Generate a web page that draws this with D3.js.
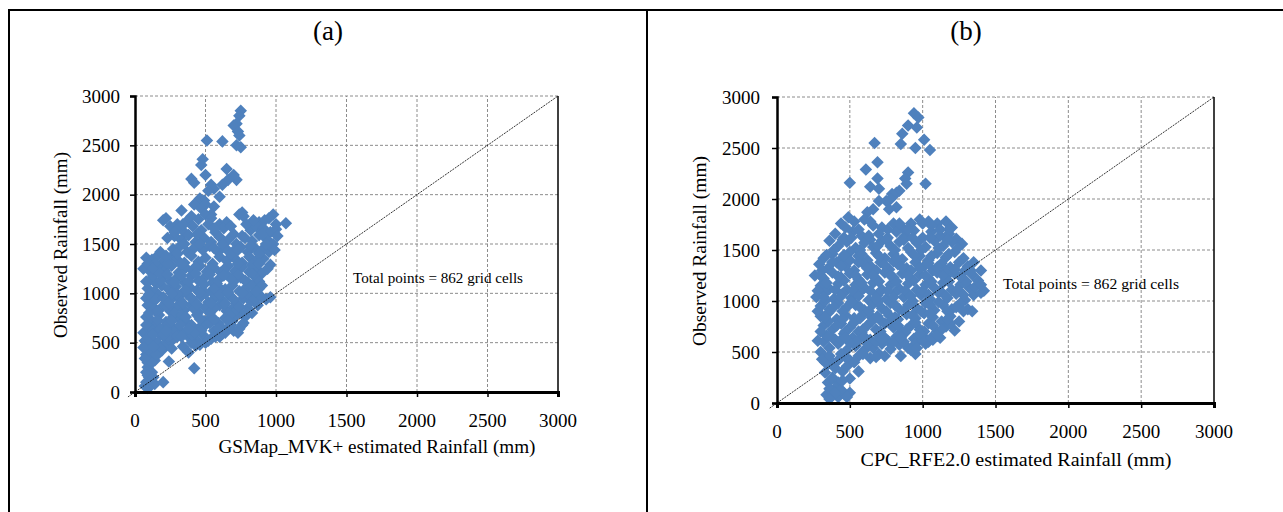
<!DOCTYPE html>
<html><head><meta charset="utf-8">
<script src="https://cdn.jsdelivr.net/npm/d3@7"></script>
<style>body{margin:0;background:#fff}svg{display:block}text{font-family:"Liberation Serif","Times New Roman",serif;fill:#000}</style>
</head><body>
<svg id="c" width="1283" height="512"></svg>
<script>
const ticks = [0, 500, 1000, 1500, 2000, 2500, 3000];
const panelLabels = ["(a)", "(b)"];
const xTitles = ["GSMap_MVK+ estimated Rainfall (mm)", "CPC_RFE2.0 estimated Rainfall (mm)"];
const yTitle = "Observed Rainfall (mm)";
const note = "Total points = 862 grid cells";

// panel (a): [estimated, observed]
const pointsA = [
[750,2850],[740,2800],[720,2720],[700,2700],[730,2640],[740,2600],[720,2500],[750,2480],[510,2550],[620,2540],
[480,2360],[470,2300],[500,2200],[650,2260],[700,2200],[720,2150],[660,2150],[620,2100],[400,2160],[420,2120],
[540,2100],[560,2060],[520,2040],[600,1980],[460,1960],[490,1940],[440,1920],[420,1900],[560,1880],[540,1800],
[330,1840],[220,1760],[200,1740],[500,1900],[470,1860],
[300,1700],[360,1720],[400,1780],[450,1750],[500,1800],[540,1760],[600,1700],[650,1720],[740,1800],[760,1820],
[770,1780],[880,1720],[920,1740],[980,1800],[1000,1700],[1070,1710],[950,1760],
[250,1680],[300,1650],[350,1620],[410,1680],[470,1640],[520,1700],[570,1620],[630,1660],[700,1600],[760,1580],
[820,1640],[860,1680],[910,1660],[960,1620],[1000,1650],[1010,1580],
[230,1560],[280,1580],[330,1540],[380,1590],[430,1520],[490,1560],[540,1520],[600,1570],[660,1540],[720,1500],
[780,1560],[830,1530],[880,1590],[940,1540],[980,1500],
[270,1450],[320,1480],[370,1420],[420,1460],[480,1440],[530,1480],[590,1420],[640,1460],[700,1430],[750,1470],
[800,1420],[850,1460],[900,1440],[950,1420],[960,1480],
[80,1360],[120,1340],[160,1380],[200,1320],[250,1360],[300,1340],[350,1310],[400,1380],[450,1320],[500,1360],
[550,1300],[600,1370],[650,1330],[710,1350],[760,1310],[810,1370],[860,1330],[910,1350],[960,1290],
[60,1250],[110,1220],[160,1270],[210,1230],[260,1280],[310,1210],[360,1260],[410,1230],[460,1280],[510,1220],
[560,1260],[610,1210],[660,1280],[710,1230],[760,1270],[810,1220],[860,1250],[900,1200],
[110,1140],[150,1100],[200,1170],[250,1120],[300,1160],[350,1110],[400,1180],[450,1130],[500,1170],[550,1110],
[600,1150],[650,1190],[700,1120],[750,1160],[800,1110],[850,1170],[880,1120],
[90,1050],[140,1020],[190,1080],[240,1040],[290,1070],[340,1010],[390,1060],[440,1030],[490,1090],[540,1020],
[590,1070],[640,1040],[690,1080],[740,1020],[790,1060],[840,1000],[880,1050],
[80,950],[120,920],[170,980],[220,910],[270,960],[320,930],[370,990],[420,920],[470,970],[520,910],
[570,960],[620,930],[670,980],[720,900],[770,950],[820,920],[870,880],[960,960],[930,940],
[90,880],[140,840],[190,860],[250,820],[300,870],[350,830],[400,880],[450,810],[500,860],[550,830],
[600,880],[650,820],[700,860],[750,800],[800,850],[830,800],
[80,760],[120,720],[170,780],[220,710],[270,760],[320,730],[370,700],[440,780],[490,720],[540,760],
[590,700],[640,750],[690,720],[720,780],[770,700],[780,760],
[60,600],[100,640],[150,680],[200,620],[260,660],[300,640],[350,600],[450,640],[500,680],[560,620],
[610,660],[660,640],[700,620],[730,600],[760,680],
[90,560],[130,520],[180,580],[220,540],[260,520],[380,560],[440,520],[480,580],[540,540],[570,560],[620,590],
[80,480],[120,440],[150,460],[190,420],[230,480],[260,440],[340,460],[380,400],[430,470],[460,480],[500,500],
[80,380],[110,350],[140,320],[90,300],[240,310],[130,400],[420,240],
[90,250],[80,200],[100,150],[80,100],[110,60],[140,80],[100,120],[120,200],[90,170],[200,100],
[280,1620],[340,1700],[440,1600],[560,1660],[680,1680],[790,1700],[900,1600],[840,1740],
[300,1400],[350,1500],[460,1500],[560,1460],[620,1500],[680,1400],[730,1440],[820,1480],[880,1400],[930,1500],[990,1440],
[90,1300],[140,1300],[230,1300],[330,1290],[430,1270],[530,1250],[630,1240],[730,1300],[830,1290],[880,1300],[940,1250],
[80,1120],[130,1180],[180,1130],[280,1110],[380,1120],[480,1100],[580,1100],[680,1150],[780,1130],[830,1080],[900,1080],
[100,990],[150,940],[200,960],[300,990],[400,950],[500,1000],[600,990],[700,940],[800,990],[850,940],[900,960],
[100,800],[160,820],[230,860],[280,800],[330,780],[420,840],[530,800],[630,880],[680,790],[720,830],[800,800],
[80,680],[130,620],[180,640],[230,690],[280,600],[320,680],[400,680],[470,620],[530,700],[590,640],[640,600],[680,680],[740,640],
[70,520],[110,500],[160,500],[200,460],[240,560],[300,560],[400,500],[520,520],[600,560],
[70,340],[100,420],[120,300],[160,380],[180,440],[60,450],
[70,60],[90,40],[130,150],
[180,1420],[220,1380],[130,1250],[175,1200],[230,1190],[330,1180],[430,1200],[530,1190],[630,1180],[730,1190],[830,1200],
[260,1000],[360,1030],[460,1010],[560,1050],[660,1010],[760,1000],[860,1020],[240,900],[340,900],[440,890],[540,900],
[640,900],[740,870],[160,730],[260,720],[360,760],[460,740],[560,740],[660,720],[130,580],[200,580],[330,560],[410,580],
[150,380],[130,460],[220,620],[420,600],[380,640]
];

// panel (b): [estimated, observed]
const pointsB = [
[940,2840],[970,2800],[900,2720],[960,2700],[860,2640],[1010,2580],[850,2540],[950,2500],[1050,2480],[670,2550],
[690,2360],[900,2260],[880,2200],[890,2150],[610,2290],[500,2160],[640,2120],[700,2100],[690,2200],[1020,2150],
[840,2080],[820,2060],[790,2050],[780,2000],[750,1980],[700,1980],[660,1900],[620,1870],[820,1920],[770,1900],
[440,1760],[490,1820],[530,1780],[600,1800],[660,1740],[720,1720],[800,1760],[860,1720],[920,1760],[980,1800],
[1040,1780],[1100,1760],[1160,1780],[1200,1720],
[400,1660],[460,1620],[520,1680],[580,1640],[640,1600],[700,1660],[760,1620],[820,1680],[880,1640],[940,1690],
[1000,1620],[1060,1680],[1120,1640],[1180,1660],[1230,1610],
[360,1590],[420,1540],[480,1580],[540,1520],[600,1570],[660,1530],[720,1590],[780,1540],[840,1580],[900,1520],
[960,1570],[1020,1530],[1080,1590],[1140,1540],[1200,1580],[1270,1560],
[320,1420],[380,1460],[440,1410],[500,1480],[560,1440],[620,1400],[680,1470],[740,1420],[800,1460],[860,1410],
[920,1480],[980,1440],[1040,1400],[1100,1470],[1160,1430],[1220,1480],[1280,1420],
[290,1360],[350,1320],[410,1380],[470,1340],[530,1300],[590,1370],[650,1330],[710,1380],[770,1310],[830,1360],
[890,1320],[950,1380],[1010,1340],[1070,1300],[1130,1370],[1190,1330],[1250,1380],[1310,1340],[1350,1380],
[260,1250],[320,1220],[380,1280],[440,1230],[500,1270],[560,1210],[620,1260],[680,1220],[740,1280],[800,1230],
[860,1270],[920,1210],[980,1260],[1040,1220],[1100,1280],[1160,1240],[1220,1270],[1280,1210],[1340,1260],[1400,1300],[1380,1200],
[300,1150],[360,1120],[420,1170],[480,1110],[540,1160],[600,1130],[660,1180],[720,1110],[780,1160],[840,1120],
[900,1170],[960,1110],[1020,1160],[1080,1130],[1140,1180],[1200,1110],[1260,1160],[1320,1130],[1420,1100],
[270,1040],[330,1080],[390,1020],[450,1070],[510,1030],[570,1090],[630,1010],[690,1060],[750,1020],[810,1080],
[870,1040],[930,1000],[990,1060],[1050,1020],[1110,1080],[1170,1030],[1230,1070],[1290,1010],[1350,1060],[1400,1080],
[300,950],[360,920],[420,980],[480,940],[540,960],[600,910],[660,970],[720,930],[780,980],[840,920],
[900,960],[960,930],[1020,980],[1080,910],[1140,960],[1200,920],[1260,980],[1310,920],[1340,900],
[300,850],[350,880],[410,820],[470,860],[530,830],[590,870],[650,840],[710,810],[770,860],[830,820],
[890,870],[950,830],[1010,880],[1070,840],[1130,800],[1190,850],[1250,800],
[320,760],[380,720],[440,780],[500,740],[560,700],[620,760],[680,720],[740,780],[800,740],[860,700],
[920,760],[980,720],[1040,780],[1100,700],[1160,750],[1220,710],
[280,610],[340,660],[400,620],[460,680],[520,640],[580,690],[640,620],[700,660],[760,610],[820,650],
[880,690],[940,630],[1000,660],[1040,600],[1070,620],[1120,640],
[300,500],[360,540],[420,580],[480,520],[540,560],[600,520],[660,540],[720,580],[780,530],[840,570],
[900,540],[950,580],[1020,580],
[330,450],[380,400],[440,480],[500,420],[560,460],[640,440],[700,480],[740,460],[850,460],[950,480],[920,520],
[350,380],[400,340],[450,310],[330,400],[560,310],[480,360],
[350,200],[380,250],[420,200],[500,240],[340,80],[380,100],[420,60],[460,90],[500,100],[400,150],[440,130],
[470,1720],[560,1700],[640,1780],[760,1700],[840,1760],[900,1700],[1000,1760],[1060,1740],[1120,1700],[1180,1700],
[390,1500],[450,1600],[510,1620],[570,1500],[630,1640],[690,1540],[750,1600],[810,1500],[870,1600],[930,1620],[990,1500],[1050,1620],[1110,1520],[1170,1600],[1240,1520],
[310,1300],[380,1380],[440,1340],[500,1400],[560,1380],[620,1320],[680,1300],[740,1350],[800,1390],[860,1330],[920,1300],[980,1320],[1040,1370],[1100,1330],[1160,1300],[1220,1310],[1290,1300],[1330,1300],
[280,1100],[340,1180],[400,1110],[460,1200],[520,1100],[580,1180],[640,1100],[700,1190],[760,1100],[820,1190],[880,1100],[940,1200],[1000,1100],[1060,1190],[1120,1100],[1180,1190],[1240,1110],[1300,1190],[1360,1140],[1400,1160],
[280,900],[330,1000],[390,940],[450,900],[510,990],[570,940],[630,900],[690,990],[750,900],[810,960],[870,900],[930,1000],[990,900],[1050,960],[1110,990],[1170,900],[1230,940],[1280,900],
[300,700],[350,800],[410,760],[470,700],[530,790],[590,720],[650,800],[710,700],[770,790],[830,760],[890,720],[950,790],[1010,700],[1070,760],[1130,720],[1190,780],
[320,600],[380,640],[440,620],[500,590],[560,620],[620,580],[680,600],[740,640],[800,600],[870,600],[960,540],[1000,620],[1060,640],
[310,430],[360,460],[420,420],[470,450],[530,400],[590,480],[680,450],
[330,300],[360,140],[400,100],[450,220],[480,60],[360,40],
[340,1450],[460,1450],[580,1460],[700,1440],[820,1420],[940,1450],[1060,1440],[1180,1460],[300,1250],[420,1240],
[540,1250],[660,1250],[780,1250],[900,1250],[1020,1250],[1140,1250],[1260,1240],[320,1040],[440,1050],[560,1050],
[680,1030],[800,1040],[920,1050],[1040,1060],[1160,1050],[1280,1060],[330,840],[450,820],[570,830],[690,850],
[810,840],[930,860],[1050,880],[1170,820],[350,650],[470,640],[600,650],[720,620],[850,640],[980,680],[1100,660]
];

const svg = d3.select("#c");
const blue = "#4F81BD";

svg.append("path").attr("d","M9,512 L9,10 L1283,10").attr("fill","none").attr("stroke","#000").attr("stroke-width",2);
svg.append("line").attr("x1",647).attr("x2",647).attr("y1",10).attr("y2",512).attr("stroke","#000").attr("stroke-width",2);

const panels = [
  {pts: pointsA, xr:[135,558], yr:[392,96], lab:[328,40], note:[353,283], noteW:170,
   xlabBase:427, xt:[377,453], xtW:317, ylabEnd:120, yt:[61,245], ytW:186},
  {pts: pointsB, xr:[777,1214], yr:[403,97], lab:[966,40], note:[1003,289], noteW:176,
   xlabBase:438, xt:[1016,466], xtW:311, ylabEnd:760, yt:[700,251], ytW:190}
];

panels.forEach((p, i) => {
  const x = d3.scaleLinear().domain([0,3000]).range(p.xr);
  const y = d3.scaleLinear().domain([0,3000]).range(p.yr);
  const g = svg.append("g");
  g.selectAll(".gx").data(ticks.filter(t=>t>0 && t<3000)).join("line")
    .attr("x1",d=>x(d)).attr("x2",d=>x(d)).attr("y1",y(0)).attr("y2",y(3000))
    .attr("stroke","#8c8c8c").attr("stroke-width",1).attr("stroke-dasharray","3,2");
  g.selectAll(".gy").data(ticks.filter(t=>t>0)).join("line")
    .attr("x1",x(0)).attr("x2",x(3000)).attr("y1",d=>y(d)).attr("y2",d=>y(d))
    .attr("stroke","#8c8c8c").attr("stroke-width",1).attr("stroke-dasharray","3,2");
  g.append("line").attr("x1",x(3000)).attr("x2",x(3000)).attr("y1",y(0)).attr("y2",y(3000))
    .attr("stroke","#000").attr("stroke-width",1.5);
  const sym = d3.symbol().type(d3.symbolDiamond2).size(100);
  g.selectAll("path.pt").data(p.pts).join("path").attr("class","pt")
    .attr("d", sym).attr("transform", d=>`translate(${x(d[0])},${y(d[1])})`)
    .attr("fill", blue);
  g.append("line").attr("x1",x(-50)).attr("y1",y(-50)).attr("x2",x(3000)).attr("y2",y(3000))
    .attr("stroke","#000").attr("stroke-width",0.8).attr("stroke-dasharray","2,1");
  const xa = g.append("g").attr("transform",`translate(0,${y(0)})`)
    .call(d3.axisBottom(x).tickValues(ticks).tickSize(5).tickFormat(""));
  xa.select(".domain").attr("stroke-width",3);
  xa.selectAll(".tick line").attr("stroke-width",1.5);
  const ya = g.append("g").attr("transform",`translate(${x(0)},0)`)
    .call(d3.axisLeft(y).tickValues(ticks).tickSize(5).tickFormat(""));
  ya.select(".domain").attr("stroke-width",2.5);
  ya.selectAll(".tick line").attr("stroke-width",1.5);
  g.selectAll(".xl").data(ticks).join("text").attr("x",d=>x(d)).attr("y",p.xlabBase)
    .attr("text-anchor","middle").attr("font-size",19).text(d=>d);
  g.selectAll(".yl").data(ticks).join("text").attr("x",p.ylabEnd).attr("y",d=>y(d)+6.5)
    .attr("text-anchor","end").attr("font-size",19).text(d=>d);
  g.append("text").attr("x",p.lab[0]).attr("y",p.lab[1]).attr("text-anchor","middle")
    .attr("font-size",27).text(panelLabels[i]);
  g.append("text").attr("x",p.xt[0]).attr("y",p.xt[1]).attr("text-anchor","middle")
    .attr("font-size",19).attr("textLength",p.xtW).attr("lengthAdjust","spacingAndGlyphs").text(xTitles[i]);
  g.append("text").attr("transform",`translate(${p.yt[0]+6},${p.yt[1]}) rotate(-90)`)
    .attr("text-anchor","middle").attr("font-size",19)
    .attr("textLength",p.ytW).attr("lengthAdjust","spacingAndGlyphs").text(yTitle);
  g.append("text").attr("x",p.note[0]).attr("y",p.note[1]).attr("font-size",14)
    .attr("textLength",p.noteW).attr("lengthAdjust","spacingAndGlyphs").text(note);
});
</script>
</body></html>
